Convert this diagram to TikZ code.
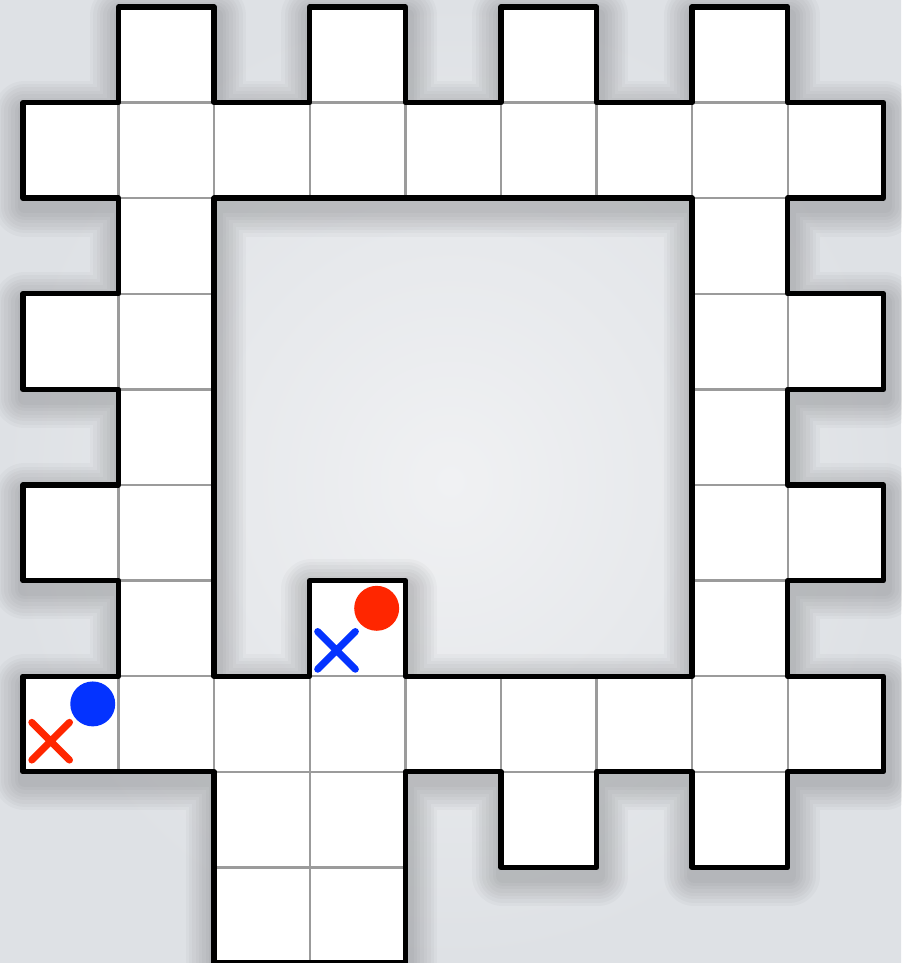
\documentclass[tikz,border=0pt]{standalone}
\usetikzlibrary{shapes.misc}
\definecolor{mazeblue}{RGB}{4,51,255}
\definecolor{mazered}{RGB}{255,38,0}
\definecolor{gridgray}{RGB}{155,155,155}
\definecolor{bgin}{RGB}{240,241,243}
\definecolor{bgout}{RGB}{222,225,229}

% outline of the board (outer edge and the hole)
\def\outerwall{(1,0) -- (2,0) -- (2,-1) -- (3,-1) -- (3,0) -- (4,0) -- (4,-1) -- (5,-1) -- (5,0) -- (6,0) -- (6,-1) -- (7,-1) -- (7,0) -- (8,0) -- (8,-1) -- (9,-1) -- (9,-2) -- (8,-2) -- (8,-3) -- (9,-3) -- (9,-4) -- (8,-4) -- (8,-5) -- (9,-5) -- (9,-6) -- (8,-6) -- (8,-7) -- (9,-7) -- (9,-8) -- (8,-8) -- (8,-9) -- (7,-9) -- (7,-8) -- (6,-8) -- (6,-9) -- (5,-9) -- (5,-8) -- (4,-8) -- (4,-10) -- (2,-10) -- (2,-8) -- (0,-8) -- (0,-7) -- (1,-7) -- (1,-6) -- (0,-6) -- (0,-5) -- (1,-5) -- (1,-4) -- (0,-4) -- (0,-3) -- (1,-3) -- (1,-2) -- (0,-2) -- (0,-1) -- (1,-1) -- cycle}
\def\innerwall{(2,-2) -- (7,-2) -- (7,-7) -- (4,-7) -- (4,-6) -- (3,-6) -- (3,-7) -- (2,-7) -- cycle}

\begin{document}
\begin{tikzpicture}[x=1cm,y=1cm,
  cell/.style={rectangle, draw=gridgray, line width=0.7pt, fill=white, minimum size=1cm, inner sep=0pt, outer sep=0pt},
  wall/.style={line width=1.6pt, line join=round},
  dot/.style={circle, inner sep=0pt, minimum size=0.47cm},
  cross/.style={cross out, draw, line width=2.1pt, line cap=round, minimum size=0.32cm, inner sep=0pt}]

\useasboundingbox (-0.24,0.073) rectangle (9.185,-10.0);
\shade[inner color=bgin, outer color=bgout] (-0.24,0.073) rectangle (9.185,-10.0);

% soft shadow
\foreach \w in {18,16,14,12,10,8,6,4}
  \draw[line width=\w pt, opacity=0.022, xshift=0.5pt, yshift=-2.5pt, line join=round] \outerwall \innerwall;

% squares
\foreach \r/\cols in {0/{1,3,5,7}, 1/{0,1,2,3,4,5,6,7,8}, 2/{1,7}, 3/{0,1,7,8}, 4/{1,7},
    5/{0,1,7,8}, 6/{1,3,7}, 7/{0,1,2,3,4,5,6,7,8}, 8/{2,3,5,7}, 9/{2,3}}
  \foreach \c in \cols
    \node[cell] (cell-\c-\r) at (\c+0.5,-\r-0.5) {};

\draw[wall] \outerwall;
\draw[wall] \innerwall;

% pieces
\node[dot, fill=mazeblue] (bluedot) at (0.73,-7.29) {};
\node[cross, draw=mazered] (redx) at (0.29,-7.68) {};
\node[dot, fill=mazered] (reddot) at (3.70,-6.29) {};
\node[cross, draw=mazeblue] (bluex) at (3.28,-6.73) {};

\end{tikzpicture}
\end{document}
